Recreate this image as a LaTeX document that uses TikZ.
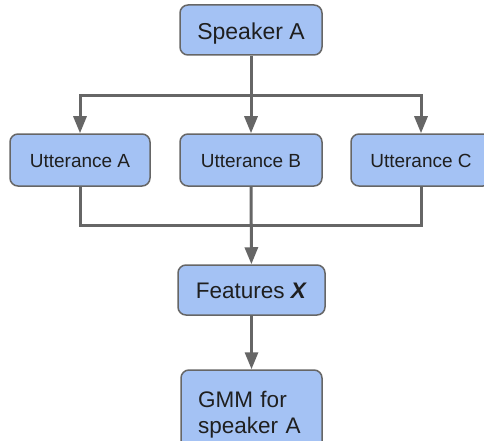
\documentclass[tikz,border=0pt]{standalone}
\usepackage{fontspec}
\setmainfont{Liberation Sans}
\usetikzlibrary{arrows.meta}
\definecolor{boxfill}{HTML}{A4C2F4}
\definecolor{boxline}{HTML}{666666}
\definecolor{wire}{HTML}{666666}
\definecolor{ink}{HTML}{1F1F1F}
\tikzset{
  box/.style={draw=boxline, line width=1.5pt, fill=boxfill, rounded corners=8pt,
    text=ink, inner sep=0pt, anchor=center, text depth=0pt},
  spktxt/.style={font=\fontsize{23}{26}\selectfont, text height=20pt},
  feattxt/.style={font=\fontsize{22.5}{26}\selectfont, text height=16.6pt},
  gmmtxt/.style={font=\fontsize{22.5}{26}\selectfont, text height=16pt, text depth=26pt},
  utttxt/.style={font=\fontsize{19}{22}\selectfont, text height=14.6pt},
  wireline/.style={draw=wire, line width=3pt},
  wirearrow/.style={wireline, -{Triangle[width=13pt,length=17pt]}},
}
\begin{document}
\begin{tikzpicture}[x=1pt, y=-1pt]
  \useasboundingbox (0,0) rectangle (484,441);
  \fill[white] (0,0) rectangle (484,441);
  \clip (0,0) rectangle (484,441);

  % boxes
  \node[box, spktxt, minimum width=142pt, minimum height=50pt] (spk) at (251,30) {Speaker A};
  \node[box, utttxt, minimum width=140pt, minimum height=52pt] (uttA) at (80,160) {Utterance A};
  \node[box, utttxt, minimum width=142pt, minimum height=52pt] (uttB) at (251,160) {Utterance B};
  \node[box, utttxt, minimum width=140pt, minimum height=52pt] (uttC) at (421,160) {Utterance C};
  \node[box, feattxt, minimum width=147pt, minimum height=50pt] (feat) at (251.5,290) {Features \textbf{\textit{X}}};
  \node[box, gmmtxt, minimum width=141pt, minimum height=84pt, text width=107pt,
        inner xsep=17pt, align=left] (gmm) at (251.5,412) {GMM for\\speaker A};

  % junction points
  \coordinate (split) at (251,96);
  \coordinate (merge) at (251,225);

  % fan-out from the speaker
  \draw[wirearrow] (spk) -- (uttB);
  \draw[wirearrow] (split) -| (uttA);
  \draw[wirearrow] (split) -| (uttC);

  % fan-in to the features
  \draw[wireline] (uttA) |- (merge) -| (uttC);
  \draw[wirearrow] (uttB) -- (feat);
  \draw[wirearrow] (feat) -- (gmm);
\end{tikzpicture}
\end{document}
